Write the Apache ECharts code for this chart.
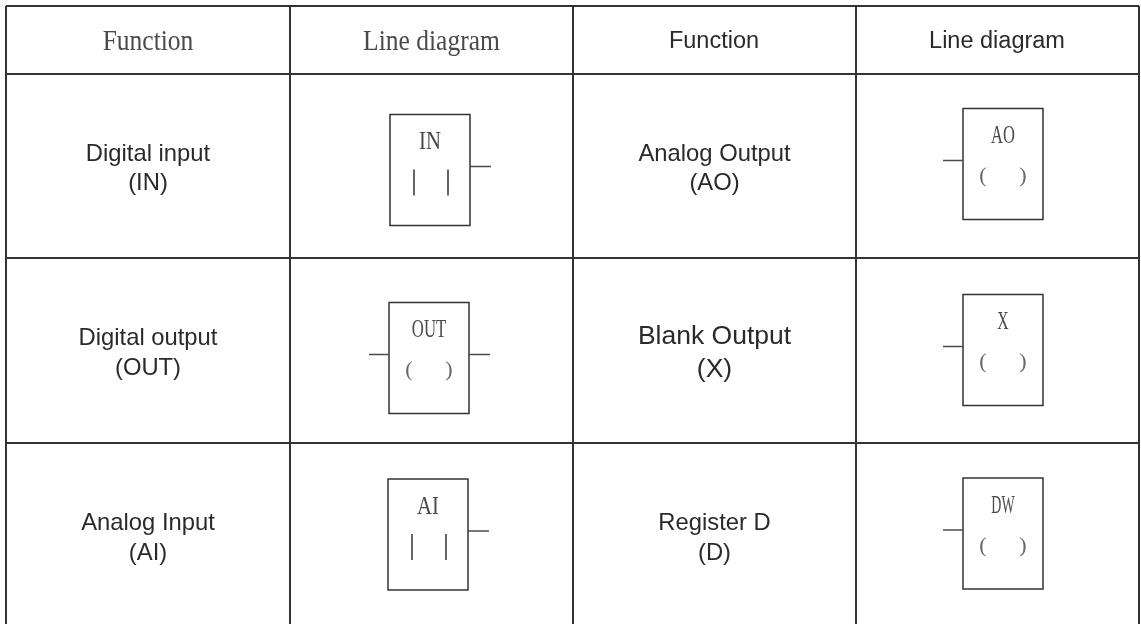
<!DOCTYPE html>
<html>
<head>
<meta charset="utf-8">
<style>
  html, body { margin: 0; padding: 0; background: #fff; }
  #main { width: 1141px; height: 624px; }
</style>
<script src="https://cdn.jsdelivr.net/npm/echarts@6/dist/echarts.min.js"></script>
</head>
<body>
<div id="main"></div>
<script>
const headers = ["Function", "Line diagram", "Function", "Line diagram"];
const leftFunctions = [["Digital input", "(IN)"], ["Digital output", "(OUT)"], ["Analog Input", "(AI)"]];
const rightFunctions = [["Analog Output", "(AO)"], ["Blank Output", "(X)"], ["Register D", "(D)"]];
const symbolTags = ["IN", "OUT", "AI", "AO", "X", "DW"];
const symbolKinds = ["input", "coil", "input", "output", "output", "output"];

// page layout, in the pixels of the picture
const columnEdges = [6, 290, 573, 856, 1139];
const rowEdges = [6, 74, 258, 443, 628];
const symbolBoxes = [[390, 114.5], [389, 302.5], [388, 479], [963, 108.5], [963, 294.5], [963, 478]];
const tagStretch = [0.83, 0.67, 0.83, 0.66, 0.63, 0.56];
const boxW = 80;
const boxH = 111;

const lineColor = "#333";
const textColor = "#2a2a2a";
const thinColor = "#4a4a4a";

function lineEl(api, x1, y1, x2, y2, width, color) {
  const a = api.coord([x1, y1]);
  const b = api.coord([x2, y2]);
  return {
    type: "line",
    shape: { x1: a[0], y1: a[1], x2: b[0], y2: b[1] },
    style: { stroke: color, lineWidth: width }
  };
}

function textEl(api, x, y, text, font, size, color, sx, sy) {
  const p = api.coord([x, y]);
  return {
    type: "text",
    x: p[0],
    y: p[1],
    scaleX: sx || 1,
    scaleY: sy || 1,
    style: { text: text, x: 0, y: 0, align: "center", verticalAlign: "middle", fontFamily: font, fontSize: size, fill: color }
  };
}

const SANS = "Liberation Sans";
const SERIF = "Liberation Serif";

function renderGrid(params, api) {
  const kids = [];
  columnEdges.forEach(x => kids.push(lineEl(api, x, rowEdges[0], x, rowEdges[4], 2, lineColor)));
  rowEdges.slice(0, 4).forEach(y => kids.push(lineEl(api, columnEdges[0], y, columnEdges[4], y, 2, lineColor)));
  return { type: "group", children: kids };
}

function renderHeader(params, api) {
  const i = api.value(0);
  const cx = (columnEdges[i] + columnEdges[i + 1]) / 2;
  const cy = 42;
  if (i < 2) return textEl(api, cx, cy, headers[i], SERIF, 29, thinColor, 0.88, 1);
  return textEl(api, cx - 0.5, cy, headers[i], SANS, 23.5, textColor);
}

function renderFunction(params, api) {
  const col = api.value(0);
  const row = api.value(1);
  const names = col === 0 ? leftFunctions[row] : rightFunctions[row];
  const cx = (columnEdges[col * 2] + columnEdges[col * 2 + 1]) / 2;
  const cy = (rowEdges[row + 1] + rowEdges[row + 2]) / 2;
  const big = names[0] === "Blank Output";
  const size = big ? 26.5 : 23.8;
  return {
    type: "group",
    children: [
      textEl(api, cx, cy - (big ? 13.5 : 12), names[0], SANS, size, textColor),
      textEl(api, cx, cy + (big ? 19 : 17.5), names[1], SANS, size, textColor)
    ]
  };
}

function renderSymbol(params, api) {
  const i = api.value(0);
  const x = symbolBoxes[i][0];
  const y = symbolBoxes[i][1];
  const kind = symbolKinds[i];
  const mid = x + boxW / 2;
  const wireY = y + 52;
  const kids = [];
  const a = api.coord([x, y]);
  const b = api.coord([x + boxW, y + boxH]);
  kids.push({
    type: "rect",
    shape: { x: a[0], y: a[1], width: b[0] - a[0], height: b[1] - a[1] },
    style: { fill: "none", stroke: lineColor, lineWidth: 1.5 }
  });
  if (kind === "input") {
    kids.push(lineEl(api, x + boxW, wireY, x + boxW + 21, wireY, 1.5, thinColor));
    kids.push(lineEl(api, mid - 16, y + 55, mid - 16, y + 81, 1.5, lineColor));
    kids.push(lineEl(api, mid + 18, y + 55, mid + 18, y + 81, 1.5, lineColor));
  } else {
    kids.push(lineEl(api, x - 20, wireY, x, wireY, 1.5, thinColor));
    if (kind === "coil") kids.push(lineEl(api, x + boxW, wireY, x + boxW + 21, wireY, 1.5, thinColor));
    kids.push(textEl(api, mid - 20, y + 68, "(", SERIF, 22, "#666"));
    kids.push(textEl(api, mid + 20, y + 68, ")", SERIF, 22, "#666"));
  }
  kids.push(textEl(api, mid, y + 28, symbolTags[i], SERIF, 25, thinColor, tagStretch[i], 1));
  return { type: "group", children: kids };
}

const chart = echarts.init(document.getElementById("main"));
chart.setOption({
  animation: false,
  backgroundColor: "#fff",
  grid: { left: 0, right: 0, top: 0, bottom: 0 },
  xAxis: { type: "value", min: 0, max: 1141, show: false },
  yAxis: { type: "value", min: 0, max: 624, inverse: true, show: false },
  series: [
    { type: "custom", coordinateSystem: "cartesian2d", clip: true, renderItem: renderGrid, data: [[0, 0]], silent: true },
    { type: "custom", coordinateSystem: "cartesian2d", renderItem: renderHeader, data: headers.map((h, i) => [i]), silent: true },
    {
      type: "custom",
      coordinateSystem: "cartesian2d",
      renderItem: renderFunction,
      data: [[0, 0], [0, 1], [0, 2], [1, 0], [1, 1], [1, 2]],
      silent: true
    },
    { type: "custom", coordinateSystem: "cartesian2d", renderItem: renderSymbol, data: symbolTags.map((t, i) => [i]), silent: true }
  ]
});
</script>
</body>
</html>
